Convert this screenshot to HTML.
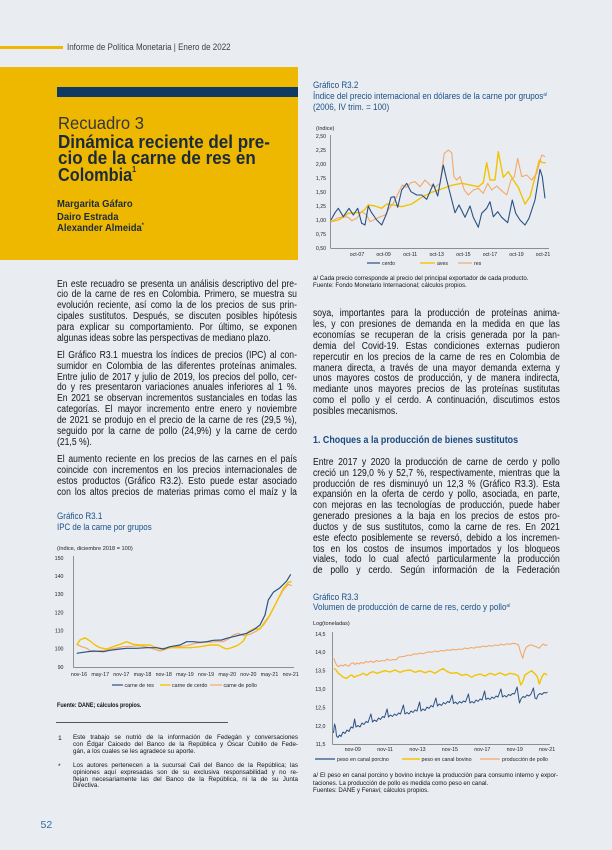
<!DOCTYPE html>
<html><head><meta charset="utf-8">
<style>
*{margin:0;padding:0;box-sizing:border-box}
html,body{width:612px;height:850px;overflow:hidden;background:#e9edf2}
body{position:relative;font-family:"Liberation Sans",Arial,sans-serif;color:#222}
.a{position:absolute;white-space:nowrap;line-height:1;transform-origin:0 0}
.col{position:absolute;transform-origin:0 0;transform:scaleX(.86);font-size:10px;line-height:10.85px;color:#141414}
.col div{text-align:justify;text-align-last:justify;white-space:normal}
.col div.e{text-align-last:left}
.ct{font-size:8.8px;color:#1b4f86;transform:scaleX(.92)}
.fn{position:absolute;transform-origin:0 0;transform:scaleX(.92);font-size:6.8px;line-height:6.75px;color:#111}
.fn div{text-align:justify;text-align-last:justify}
.fn div.e{text-align-last:left}
.nt{position:absolute;font-size:6.1px;line-height:7.2px;color:#111;white-space:nowrap}
svg{position:absolute;left:0;top:0}
</style></head><body>

<!-- header -->
<div style="position:absolute;left:0;top:45.7px;width:63px;height:3px;background:#efb800"></div>
<div class="a" style="left:67px;top:42.5px;font-size:8.8px;color:#3d3d3d;transform:scaleX(.91)">Informe de Política Monetaria | Enero de 2022</div>

<!-- yellow box -->
<div style="position:absolute;left:0;top:67px;width:298px;height:193px;background:#efb800"></div>
<div style="position:absolute;left:57px;top:87px;width:241px;height:10px;background:#0f3a64"></div>
<div class="a" style="left:58px;top:114.7px;font-size:17.5px;color:#33363a;transform:scaleX(.95)">Recuadro 3</div>
<div class="a" style="left:58px;top:132.6px;font-size:18.5px;font-weight:bold;color:#1c2b3c;transform:scaleX(.92)">Dinámica reciente del pre-</div>
<div class="a" style="left:58px;top:149.3px;font-size:18.5px;font-weight:bold;color:#1c2b3c;transform:scaleX(.92)">cio de la carne de res en</div>
<div class="a" style="left:58px;top:166px;font-size:18.5px;font-weight:bold;color:#1c2b3c;transform:scaleX(.88)">Colombia<span style="font-size:8px;vertical-align:9px">1</span></div>
<div class="a" style="left:57px;top:199.4px;font-size:10.5px;font-weight:bold;color:#1c2b3c;transform:scaleX(.9)">Margarita Gáfaro</div>
<div class="a" style="left:57px;top:211.8px;font-size:10.5px;font-weight:bold;color:#1c2b3c;transform:scaleX(.9)">Dairo Estrada</div>
<div class="a" style="left:57px;top:223.4px;font-size:10.5px;font-weight:bold;color:#1c2b3c;transform:scaleX(.9)">Alexander Almeida<span style="font-size:6px;vertical-align:4px">*</span></div>

<!-- left column -->
<div class="col" style="left:57px;top:279.6px;width:279px">
<div>En este recuadro se presenta un análisis descriptivo del pre-</div>
<div>cio de la carne de res en Colombia. Primero, se muestra su</div>
<div>evolución reciente, así como la de los precios de sus prin-</div>
<div>cipales sustitutos. Después, se discuten posibles hipótesis</div>
<div>para explicar su comportamiento. Por último, se exponen</div>
<div class="e">algunas ideas sobre las perspectivas de mediano plazo.</div>
</div>
<div class="col" style="left:57px;top:350.9px;width:279px">
<div>El Gráfico R3.1 muestra los índices de precios (IPC) al con-</div>
<div>sumidor en Colombia de las diferentes proteínas animales.</div>
<div>Entre julio de 2017 y julio de 2019, los precios del pollo, cer-</div>
<div>do y res presentaron variaciones anuales inferiores al 1 %.</div>
<div>En 2021 se observan incrementos sustanciales en todas las</div>
<div>categorías. El mayor incremento entre enero y noviembre</div>
<div>de 2021 se produjo en el precio de la carne de res (29,5 %),</div>
<div>seguido por la carne de pollo (24,9%) y la carne de cerdo</div>
<div class="e">(21,5 %).</div>
</div>
<div class="col" style="left:57px;top:455.4px;width:279px">
<div>El aumento reciente en los precios de las carnes en el país</div>
<div>coincide con incrementos en los precios internacionales de</div>
<div>estos productos (Gráfico R3.2). Esto puede estar asociado</div>
<div>con los altos precios de materias primas como el maíz y la</div>
</div>

<!-- right column -->
<div class="col" style="left:312.5px;top:309.4px;width:287px">
<div>soya, importantes para la producción de proteínas anima-</div>
<div>les, y con presiones de demanda en la medida en que las</div>
<div>economías se recuperan de la crisis generada por la pan-</div>
<div>demia del Covid-19. Estas condiciones externas pudieron</div>
<div>repercutir en los precios de la carne de res en Colombia de</div>
<div>manera directa, a través de una mayor demanda externa y</div>
<div>unos mayores costos de producción, y de manera indirecta,</div>
<div>mediante unos mayores precios de las proteínas sustitutas</div>
<div>como el pollo y el cerdo. A continuación, discutimos estos</div>
<div class="e">posibles mecanismos.</div>
</div>
<div class="a" style="left:312.5px;top:436.1px;font-size:9.8px;font-weight:bold;color:#1b4a7e;transform:scaleX(.91)">1. Choques a la producción de bienes sustitutos</div>
<div class="col" style="left:312.5px;top:457.9px;width:287px">
<div>Entre 2017 y 2020 la producción de carne de cerdo y pollo</div>
<div>creció un 129,0 % y 52,7 %, respectivamente, mientras que la</div>
<div>producción de res disminuyó un 12,3 % (Gráfico R3.3). Esta</div>
<div>expansión en la oferta de cerdo y pollo, asociada, en parte,</div>
<div>con mejoras en las tecnologías de producción, puede haber</div>
<div>generado presiones a la baja en los precios de estos pro-</div>
<div>ductos y de sus sustitutos, como la carne de res. En 2021</div>
<div>este efecto posiblemente se reversó, debido a los incremen-</div>
<div>tos en los costos de insumos importados y los bloqueos</div>
<div>viales, todo lo cual afectó particularmente la producción</div>
<div>de pollo y cerdo. Según información de la Federación</div>
</div>

<!-- chart titles -->
<div class="a ct" style="left:313px;top:81px">Gráfico R3.2</div>
<div class="a ct" style="left:313px;top:92px">Índice del precio internacional en dólares de la carne por grupos<span style="font-size:5px;vertical-align:3px">a/</span></div>
<div class="a ct" style="left:313px;top:103px">(2006, IV trim. = 100)</div>

<div class="a ct" style="left:57px;top:512px">Gráfico R3.1</div>
<div class="a ct" style="left:57px;top:522.5px;font-size:9px;transform:scaleX(.88)">IPC de la carne por grupos</div>

<div class="a ct" style="left:313px;top:593px">Gráfico R3.3</div>
<div class="a ct" style="left:313px;top:603.3px">Volumen de producción de carne de res, cerdo y pollo<span style="font-size:5px;vertical-align:3px">a/</span></div>

<!-- notes -->
<div class="nt" style="left:313px;top:274.7px">a/ Cada precio corresponde al precio del principal exportador de cada producto.<br>Fuente: Fondo Monetario Internacional; cálculos propios.</div>
<div class="nt" style="left:57px;top:701.5px;font-weight:bold;transform:scaleX(.89);transform-origin:0 0">Fuente: DANE; cálculos propios.</div>
<div class="nt" style="left:313px;top:772.3px;width:245px;white-space:normal">
<div style="text-align:justify;text-align-last:justify;white-space:nowrap">a/ El peso en canal porcino y bovino incluye la producción para consumo interno y expor-</div>
<div>taciones. La producción de pollo es medida como peso en canal.</div>
<div>Fuentes: DANE y Fenavi; cálculos propios.</div>
</div>

<!-- footnotes -->
<div style="position:absolute;left:56px;top:721.7px;width:172px;height:0.7px;background:#555"></div>
<div class="a" style="left:58px;top:735.5px;font-size:6.8px;color:#111">1</div>
<div class="fn" style="left:73px;top:735.3px;width:244.6px">
<div>Este trabajo se nutrió de la información de Fedegán y conversaciones</div>
<div>con Édgar Caicedo del Banco de la República y Óscar Cubillo de Fede-</div>
<div class="e">gán, a los cuales se les agradece su aporte.</div>
</div>
<div class="a" style="left:58px;top:764px;font-size:6.8px;color:#111">*</div>
<div class="fn" style="left:73px;top:763px;width:244.6px">
<div>Los autores pertenecen a la sucursal Cali del Banco de la República; las</div>
<div>opiniones aquí expresadas son de su exclusiva responsabilidad y no re-</div>
<div>flejan necesariamente las del Banco de la República, ni la de su Junta</div>
<div class="e">Directiva.</div>
</div>

<div class="a" style="left:40.5px;top:819.5px;font-size:10.5px;color:#2f6a9e">52</div>

<svg width="612" height="850" viewBox="0 0 612 850" font-family="Liberation Sans, Arial, sans-serif">
<!-- ===== R3.2 ===== -->
<g font-size="5.2" fill="#222">
<text x="316" y="129.8" font-size="5.5">(índice)</text>
<g text-anchor="end">
<text x="326" y="137.8">2,50</text><text x="326" y="151.8">2,25</text><text x="326" y="165.8">2,00</text>
<text x="326" y="179.8">1,75</text><text x="326" y="193.8">1,50</text><text x="326" y="207.8">1,25</text>
<text x="326" y="221.8">1,00</text><text x="326" y="235.8">0,75</text><text x="326" y="249.8">0,50</text>
</g>
<g text-anchor="middle">
<text x="357" y="255.8">oct-07</text><text x="383.6" y="255.8">oct-09</text><text x="410.1" y="255.8">oct-11</text>
<text x="436.7" y="255.8">oct-13</text><text x="463.3" y="255.8">oct-15</text><text x="489.9" y="255.8">oct-17</text>
<text x="516.4" y="255.8">oct-19</text><text x="543" y="255.8">oct-21</text>
</g>
<text x="382" y="264.8">cerdo</text><text x="437" y="264.8">aves</text><text x="474" y="264.8">res</text>
</g>
<g stroke="#555" stroke-width="0.6" fill="none">
<line x1="330.5" y1="135" x2="330.5" y2="248.3"/>
<line x1="330.5" y1="248.3" x2="549" y2="248.3"/>
</g>
<line x1="367" y1="263" x2="380" y2="263" stroke="#2b5184" stroke-width="1.2"/>
<line x1="420" y1="263" x2="435" y2="263" stroke="#f2c300" stroke-width="1.4"/>
<line x1="458" y1="263" x2="472" y2="263" stroke="#f3a869" stroke-width="1.2"/>
<polyline fill="none" stroke="#f2c300" stroke-width="1.4" stroke-linejoin="round" points="331,221.7 338.3,220 343.3,217.3 348.3,213.3 355,212.7 360,212.7 364.3,210 368.3,205 375,206 381.7,208.3 386.7,204 393.3,205 401.7,206.7 411.7,204 421.7,197.3 431.7,192.3 441.7,189 451.7,185.3 461.7,183.3 471.7,185.3 478.3,186.7 483.3,182.7 486.7,162.7 490,180 495,180 498.3,151.7 503.3,177.3 508.3,171.7 513.3,180 518.3,187.3 525,204 530,196.7 535,177.3 539.3,160 542.3,162.7 545.7,162.7"/>
<polyline fill="none" stroke="#f3a869" stroke-width="1.1" stroke-linejoin="round" points="331,221.7 336.7,218.3 343.3,216.7 348.3,217.3 351.7,220.7 356.7,218.3 361.7,211.7 366.7,215 370,221.7 375,219.3 379,217.3 385,215 390,207.3 393.3,203.3 398.3,193.3 402.3,185 406.7,187.3 411,182.7 415,181.7 420,186.7 425,180 430,185 435,187.3 440,183.3 444.3,153.3 448.3,150 451.7,152.7 454,176.7 456.7,180 460,176.7 464.3,190 468.3,195 473.3,190 478.3,188.3 483.3,193.3 487.7,183.3 491.7,190 496.7,186 501.7,190.7 506.7,195 511,180 514.3,176.7 517.7,158.3 521.7,176.7 526.7,175 531.7,180 536.7,173.3 541.7,155 545,156.7"/>
<polyline fill="none" stroke="#2b5184" stroke-width="1.1" stroke-linejoin="round" points="331,220 335,212.7 338.3,208.3 343.3,216.7 349,208.3 353.3,215 357.7,208.3 361.7,223.3 365,225 368.3,206 371,211.7 376.7,220 381.7,225 386.7,213.3 391,197.3 394.3,196.7 397.7,207.3 401.7,190 406.7,183.3 411,191.7 416.7,195 421.7,195 426.7,199.3 433.3,184 437.7,196 443.3,165 446.7,180 455,212.7 459,205 465,217.3 470,206 473.3,217.3 478.3,227.3 481.7,213.3 486.7,208.3 490,201.7 493.3,216.7 497.7,211.7 501.7,217.3 507.7,222.7 512.3,200 515.7,213.3 520,220 525,225 529,218.3 535,200 540,169.3 542.3,176.7 545,198.3"/>

<!-- ===== R3.1 ===== -->
<g font-size="5.3" fill="#222">
<text x="57" y="549.8" font-size="5.6">(índice, diciembre 2018 = 100)</text>
<g text-anchor="end">
<text x="63.5" y="559.8">150</text><text x="63.5" y="578">140</text><text x="63.5" y="596.1">130</text>
<text x="63.5" y="614.3">120</text><text x="63.5" y="632.5">110</text><text x="63.5" y="650.6">100</text>
<text x="63.5" y="668.8">90</text>
</g>
<g text-anchor="middle">
<text x="79" y="675.8">nov-16</text><text x="100.2" y="675.8">may-17</text><text x="121.3" y="675.8">nov-17</text>
<text x="142.5" y="675.8">may-18</text><text x="163.7" y="675.8">nov-18</text><text x="184.9" y="675.8">may-19</text>
<text x="206" y="675.8">nov-19</text><text x="227.2" y="675.8">may-20</text><text x="248.4" y="675.8">nov-20</text>
<text x="269.5" y="675.8">may-21</text><text x="290.7" y="675.8">nov-21</text>
</g>
<text x="124.5" y="686.8">carne de res</text><text x="172" y="686.8">carne de cerdo</text><text x="223.5" y="686.8">carne de pollo</text>
</g>
<g stroke="#555" stroke-width="0.6" fill="none">
<line x1="73.3" y1="556" x2="73.3" y2="667.3"/>
<line x1="73.3" y1="667.3" x2="294" y2="667.3"/>
</g>
<line x1="112" y1="685" x2="123" y2="685" stroke="#2b5184" stroke-width="1.2"/>
<line x1="160" y1="685" x2="170.5" y2="685" stroke="#f2c300" stroke-width="1.4"/>
<line x1="210" y1="685" x2="222" y2="685" stroke="#f3a869" stroke-width="1.2"/>
<polyline fill="none" stroke="#f3a869" stroke-width="1.2" stroke-linejoin="round" points="76.7,644.3 81.7,646.7 86.7,648.3 91.7,651.7 98.3,651 106.7,650 115,648.3 123.3,646.7 131.7,646.3 140,645.7 150,647.7 160,651 168.3,648.3 176.7,646.7 186.7,645.7 196.7,643 206.7,642.3 216.7,641.7 223.3,641.7 228.3,639 233.3,635 238.3,633.3 243.3,635.7 250,634.3 256.7,631 263.3,625.3 268.3,618 273.3,608.3 278.3,599 283.3,590 288.3,584.3 291.7,585.7"/>
<polyline fill="none" stroke="#f2c300" stroke-width="1.4" stroke-linejoin="round" points="76.7,645 80,640 85,637.7 90,641 95,645 100,647.7 106.7,649 113.3,646.7 120,644.3 126.7,641.7 133.3,644.3 140,645 150,645 160,649 170,647.7 180,647.7 190,647.7 200,646.7 210,645 218.3,645 223.3,647.7 226.7,649 231.7,647.7 238.3,645 243.3,641 248.3,631.7 253.3,629 260,629 265,621.7 270,615 276.7,601.7 283.3,588.3 288.3,582.3 291.7,581.7"/>
<polyline fill="none" stroke="#2b5184" stroke-width="1.2" stroke-linejoin="round" points="76.7,653.3 83.3,652.3 93.3,651 103.3,651.7 110,650.3 120,649 126.7,648.3 136.7,648.3 146.7,647.7 156.7,647.7 163.3,649 170,646.7 180,645 186.7,641.7 193.3,641.7 200,642.3 206.7,641.7 213.3,640.3 221.7,640 226.7,638.3 233.3,636.7 240,635 246.7,633.3 253.3,630 260,625 265,615 268.3,600 273.3,592.3 280,587.7 286.7,581 290.7,574.3"/>

<!-- ===== R3.3 ===== -->
<g font-size="5.3" fill="#222">
<text x="313" y="625" font-size="5.5">Log(toneladas)</text>
<g text-anchor="end">
<text x="325.5" y="635.8">14,5</text><text x="325.5" y="654.2">14,0</text><text x="325.5" y="672.6">13,5</text>
<text x="325.5" y="691">13,0</text><text x="325.5" y="709.4">12,5</text><text x="325.5" y="727.8">12,0</text>
<text x="325.5" y="746.2">11,5</text>
</g>
<g text-anchor="middle">
<text x="352.7" y="751.1">nov-09</text><text x="385.1" y="751.1">nov-11</text><text x="417.5" y="751.1">nov-13</text>
<text x="449.9" y="751.1">nov-15</text><text x="482.3" y="751.1">nov-17</text><text x="514.7" y="751.1">nov-19</text>
<text x="547.1" y="751.1">nov-21</text>
</g>
<text x="337" y="760.8">peso en canal porcino</text><text x="421.5" y="760.8">peso en canal bovino</text><text x="502" y="760.8">producción de pollo</text>
</g>
<g stroke="#555" stroke-width="0.6" fill="none">
<line x1="332.7" y1="632" x2="332.7" y2="744.6"/>
<line x1="332.7" y1="744.6" x2="550" y2="744.6"/>
</g>
<line x1="315" y1="759" x2="335" y2="759" stroke="#2b5184" stroke-width="1.2"/>
<line x1="402" y1="759" x2="420" y2="759" stroke="#f2c300" stroke-width="1.4"/>
<line x1="480" y1="759" x2="500" y2="759" stroke="#f3a869" stroke-width="1.2"/>
<polyline fill="none" stroke="#f3a869" stroke-width="1.1" stroke-linejoin="round" points="334,658.3 335.5,663 337,665.5 339,666.7 341,665 343,666 345,664.5 347,665.5 349,666.3 351,663.5 353,662.7 355,664.5 357,663 359,664 361,662.5 363.5,663.3 366,661.5 368.5,662.3 371,661 373.5,662.5 376.5,660.5 379,661.5 382,660.5 385,661 387,659 390,660.5 393,659.5 396,659.8 399,657 402,656.5 405,656.3 408,655 411,655.5 414,653.8 417,654.3 420,653 423,653.8 426,652.5 429,651.8 432,652.3 435,651 438,651.8 441,650.5 444,651 447,649.8 450,650.3 453,649.3 456,650 459,649 462,649.5 465,648 468,648.8 471,647.5 474,648.2 477,646.8 480,647.3 483,646 486,646.7 489,645.5 492,646.2 495,645 498,645.5 501,644.2 504,645 507,643.8 510,644.3 513,643.3 516,643.8 518.5,645 520.5,652 522.7,658.3 524.5,651 526.5,647 529,645.5 531.5,644.8 534,646 536.5,646.8 539,648.3 541,646 543.3,644 545.5,645.5 547.3,644.8"/>
<polyline fill="none" stroke="#f2c300" stroke-width="1.4" stroke-linejoin="round" points="334,668.3 336,670 338.3,673.3 340.7,675 343.3,677.3 346.7,678.3 349.3,676 351.7,675 354,677.3 356.7,676 360,675 363.3,673.3 366.7,675.3 370,672.7 373.3,671.7 376.7,673.3 380,672.3 385,670.7 390,672 395,670 400,672.3 405,670.7 410,670 415,672.3 420,670.7 425,672.7 430,671 435,673.3 440,670 443.3,668.7 447.3,671.7 451.7,673.3 456.7,672.7 461.7,675.3 466.7,674.3 471.7,677.3 475,675.3 480,674 485,676 490,673.3 495,675 500,672.7 505,675.3 510,673.3 515,674.3 518.3,676 520.7,685 522.7,681.7 525,675 528.3,672.7 531.7,670.7 535,674 537.3,676.7 539.3,684 541.7,677.3 544.3,673.3 547.3,675"/>
<polyline fill="none" stroke="#2b5184" stroke-width="1" stroke-linejoin="round" points="333.5,733 334.5,724 335.5,727 336.5,736 338,737.5 339.5,735 341,736.5 343,732 345,733.5 347,730 349,731.5 351,727 353,728 354.6,719 356,727 358,725.5 360,727 362,723 364,724.5 366,721.5 368,722.5 370.9,714 372.5,722 374.5,720 376.5,721.5 378.5,718 380.5,719.5 382.5,716.5 384.5,717.5 387.1,709 388.5,717 390.5,715 392.5,716.5 394.5,714 396.5,715.5 398.5,713 400.5,714 403.4,705 405,714 407,712.5 409,714 411,711 413,712.5 415,710 417,711 419.6,702 421,711 423,709 425,710.5 427,707 429,708.5 431,705.5 433,707 435.9,698 437.5,706 439.5,704 441.5,705.5 443.5,702.5 445.5,704 447.5,701.5 449.5,702.5 452.1,695 453.5,703.5 455.5,702 457.5,704 459.5,701.5 461.5,703 463.5,701 465.5,702 468.4,694 470,703 472,701.5 474,703 476,700 478,701.5 480,699 482,700 484.6,691 486,699.5 488,698 490,699.5 492,697 494,698.5 496,696 498,697 500.9,689 502.5,697 504.5,695.5 506.5,697 508.5,694.5 510.5,695.5 512.5,693.5 514.5,694 517.1,687 518.5,697 519.5,703 521,699 523,696.5 525,697.5 527,695 529,696 531,694 533.4,688 535,698 536.5,699 538,695 540,693.5 542,694.5 544,692.5 546,693 547.5,692"/>
</svg>
</body></html>
